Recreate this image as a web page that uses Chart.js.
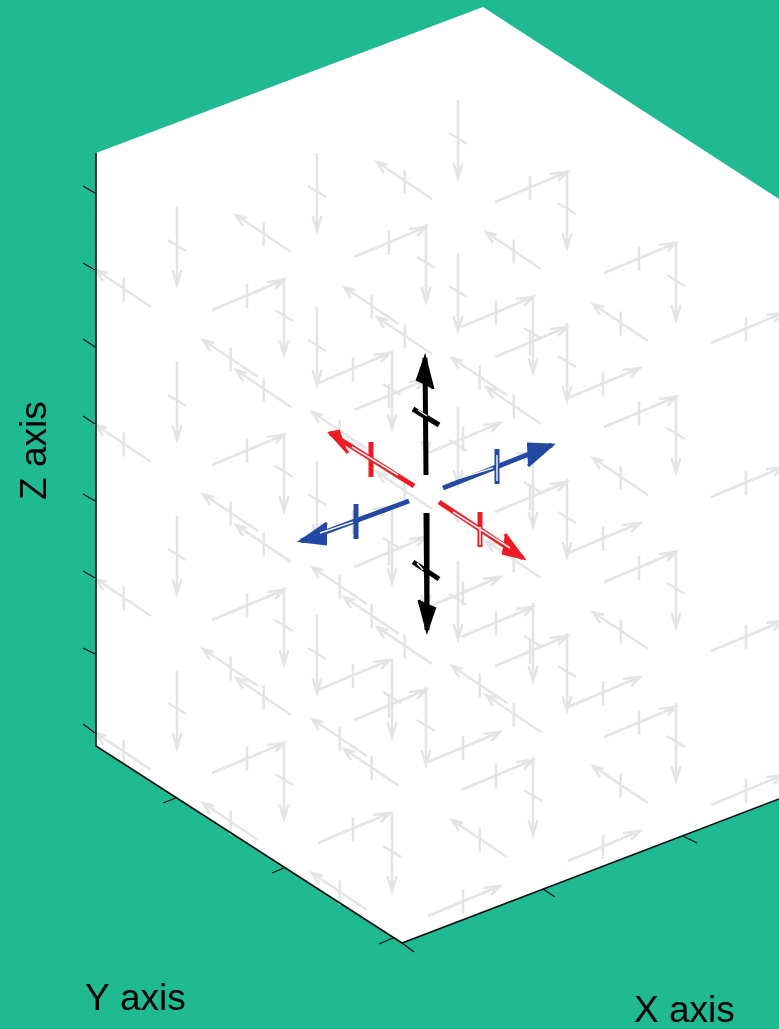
<!DOCTYPE html>
<html>
<head>
<meta charset="utf-8">
<title>Z axis / Y axis / X axis</title>
<script src="https://cdn.jsdelivr.net/npm/chart.js"></script>
<style>
  html, body { margin: 0; padding: 0; background: #20ba92; }
  canvas { display: block; }
</style>
</head>
<body>
<canvas id="chart" width="779" height="1029"></canvas>
<script>
// box outline
const boxX = [96, 483, 779, 779, 402, 96];
const boxY = [153, 7, 199, 799, 943, 746];
const spineX = [96, 96, 402, 779];
const spineY = [153, 746, 943, 799];

// axis tick marks (start and end)
const tickX1 = [83, 83, 83, 83, 83, 83, 83, 83, 176, 284, 393, 402, 543, 683];
const tickY1 = [186, 263, 339, 416, 494, 571, 648, 724, 798, 868, 938, 943, 889, 836];
const tickX2 = [95, 95, 95, 95, 95, 95, 95, 95, 163, 272, 379, 414, 555, 697];
const tickY2 = [193, 270, 347, 424, 501, 578, 654, 733, 803, 873, 944, 952, 897, 843];

// grey arrows pointing down: column, then the top of each arrow
const downX = [177, 284, 317, 392, 426, 458, 533, 567, 676];
const downTop = [
  [207, 362, 516, 670],
  [277, 433, 587, 741],
  [153, 307, 461, 615],
  [351, 505, 659, 813],
  [224, 378, 532, 687],
  [100, 253, 407, 561],
  [295, 449, 603, 757],
  [170, 323, 479, 633],
  [242, 395, 550, 703]
];

// grey arrows pointing up-right: tip column, then tip heights
const upRightX = [284, 390, 426, 500, 533, 567, 640, 676, 783];
const upRightTip = [
  [280, 435, 590, 743],
  [353, 507, 660, 813],
  [227, 380, 537, 690],
  [423, 577, 732, 886],
  [297, 452, 607, 760],
  [172, 327, 482, 636],
  [368, 523, 677, 831],
  [243, 397, 552, 707],
  [313, 467, 621, 775]
];

// grey arrows pointing up-left: tip column, then tip heights
const upLeftX = [96, 203, 236, 312, 344, 377, 452, 486, 593];
const upLeftTip = [
  [270, 425, 579, 733],
  [340, 494, 649, 803],
  [215, 370, 525, 678],
  [412, 567, 719, 873],
  [287, 442, 597, 749],
  [162, 317, 472, 627],
  [358, 512, 666, 820],
  [232, 387, 541, 695],
  [304, 458, 612, 766]
];

// the six coloured arrows in the middle
const centerColor = ['#000000', '#000000', '#ee1c25', '#ee1c25', '#2349a4', '#2349a4'];
const centerTailX = [426, 426, 414, 439, 443, 409];
const centerTailY = [475, 513, 486, 502, 488, 501];
const centerTipX = [425, 427, 330, 523, 552, 301];
const centerTipY = [358, 630, 433, 558, 445, 541];
const centerBarbAX = [417, 419, 348, 505, 527, 327];
const centerBarbAY = [381, 600, 453, 534, 444, 523];
const centerBarbBX = [433, 435, 340, 502, 528, 327];
const centerBarbBY = [389, 607, 431, 553, 466, 544];
const centerCrossX1 = [413, 413, 371, 480, 497, 356];
const centerCrossY1 = [409, 562, 442, 512, 449, 504];
const centerCrossX2 = [439, 439, 371, 480, 497, 356];
const centerCrossY2 = [425, 579, 477, 547, 484, 539];

// pale streaks inside the coloured strokes
const streakX1 = [418, 417, 352, 453, 480, 460, 497, 320];
const streakY1 = [410, 563, 447, 512, 527, 478, 455, 533];
const streakX2 = [427, 423, 398, 510, 480, 493, 497, 353];
const streakY2 = [416, 570, 475, 548, 545, 468, 481, 522];

const axisLabels = ['Z axis', 'Y axis', 'X axis'];
const labelX = [46, 85, 634];
const labelY = [500, 1010, 1022];
const labelAngle = [-90, 0, 0];

const GAP = { x: NaN, y: NaN };
const GREY = '#e4e4e4';

// strokes of each grey arrow relative to its anchor
const downShape = [
  [[0, 0], [0, 78]],
  [[-4.5, 63], [0, 78], [4.5, 63]],
  [[-9, 33], [9, 44]]
];
const upRightShape = [
  [[-72, 30], [0, 0]],
  [[-17, 2], [0, 0], [-9, 9]],
  [[-37, 4], [-37, 28]]
];
const upLeftShape = [
  [[55, 37], [0, 0]],
  [[11, 3], [0, 0], [7, 11]],
  [[27.7, 7.4], [27.7, 31.4]]
];

// one dataset with gaps for a whole family of arrows
function arrowFamily(columns, rows, shape) {
  const pts = [];
  columns.forEach((cx, i) => {
    rows[i].forEach(cy => {
      shape.forEach(stroke => {
        stroke.forEach(p => pts.push({ x: cx + p[0], y: cy + p[1] }));
        pts.push(GAP);
      });
    });
  });
  return pts;
}

function segments(x1, y1, x2, y2, idx) {
  const pts = [];
  idx.forEach(i => {
    pts.push({ x: x1[i], y: y1[i] }, { x: x2[i], y: y2[i] }, GAP);
  });
  return pts;
}

function stroke(data, color, width) {
  return {
    data: data,
    showLine: true,
    spanGaps: false,
    borderColor: color,
    borderWidth: width,
    borderCapStyle: 'butt',
    pointRadius: 0,
    tension: 0,
    fill: false
  };
}

const datasets = [];

// white face of the box
datasets.push({
  data: boxX.map((x, i) => ({ x: x, y: boxY[i] })),
  showLine: true,
  borderWidth: 0,
  borderColor: '#ffffff',
  backgroundColor: '#ffffff',
  pointRadius: 0,
  fill: 'shape'
});

// grey field
datasets.push(stroke(arrowFamily(downX, downTop, downShape), GREY, 2.5));
datasets.push(stroke(arrowFamily(upRightX, upRightTip, upRightShape), GREY, 2.5));
datasets.push(stroke(arrowFamily(upLeftX, upLeftTip, upLeftShape), GREY, 2.5));

// box edges and ticks
datasets.push(stroke(spineX.map((x, i) => ({ x: x, y: spineY[i] })), '#101010', 1.6));
datasets.push(stroke(segments(tickX1, tickY1, tickX2, tickY2, tickX1.map((_, i) => i)), '#101010', 1.3));

// coloured arrows
centerColor.forEach((color, i) => {
  datasets.push(stroke(segments(centerTailX, centerTailY, centerTipX, centerTipY, [i]), color, 5));
  datasets.push(stroke(segments(centerCrossX1, centerCrossY1, centerCrossX2, centerCrossY2, [i]), color, 5));
  datasets.push({
    data: [
      { x: centerBarbAX[i], y: centerBarbAY[i] },
      { x: centerTipX[i], y: centerTipY[i] },
      { x: centerBarbBX[i], y: centerBarbBY[i] }
    ],
    showLine: true,
    borderColor: color,
    borderWidth: 3,
    backgroundColor: color,
    pointRadius: 0,
    fill: 'shape'
  });
});
datasets.push(stroke(segments(streakX1, streakY1, streakX2, streakY2, streakX1.map((_, i) => i)), '#eeeeee', 1.5));

// first dataset has to end up at the bottom
datasets.forEach((d, i) => { d.order = -i; });

const axisTextPlugin = {
  id: 'axisText',
  afterDatasetsDraw(chart) {
    const ctx = chart.ctx;
    ctx.save();
    ctx.fillStyle = '#000000';
    ctx.font = '37px "Liberation Sans", Arial, sans-serif';
    ctx.textBaseline = 'alphabetic';
    axisLabels.forEach((text, i) => {
      ctx.save();
      ctx.translate(chart.scales.x.getPixelForValue(labelX[i]), chart.scales.y.getPixelForValue(labelY[i]));
      ctx.rotate(labelAngle[i] * Math.PI / 180);
      ctx.fillText(text, 0, 0);
      ctx.restore();
    });
    ctx.restore();
  }
};

new Chart(document.getElementById('chart'), {
  type: 'scatter',
  data: { datasets: datasets },
  plugins: [axisTextPlugin],
  options: {
    responsive: false,
    animation: false,
    layout: { padding: 0 },
    scales: {
      x: { type: 'linear', min: 0, max: 779, display: false },
      y: { type: 'linear', min: 0, max: 1029, reverse: true, display: false }
    },
    plugins: {
      legend: { display: false },
      tooltip: { enabled: false },
      title: { display: false }
    }
  }
});
</script>
</body>
</html>
